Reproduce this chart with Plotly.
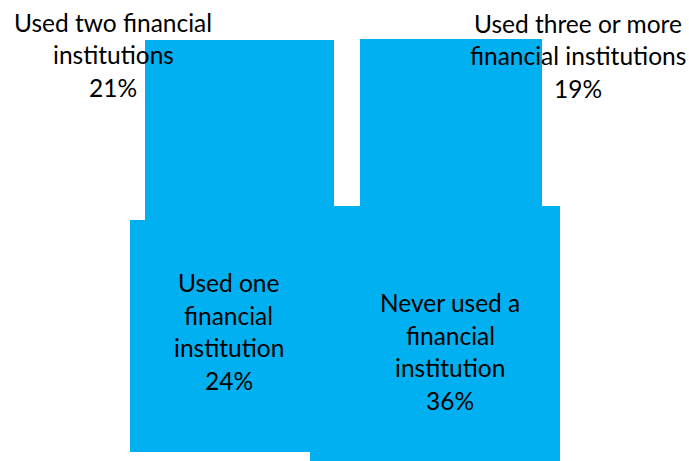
import plotly.graph_objects as go

# ---- data ----
categories = [
    "Used two financial<br>institutions",
    "Used three or more<br>financial institutions",
    "Used one<br>financial<br>institution",
    "Never used a<br>financial<br>institution",
]
shares = [21, 19, 24, 36]

# ---- layout geometry (pixel space: x0, x1, y0, y1) ----
rects = [
    (145, 334, 40, 222),
    (360, 542, 39, 208),
    (130, 310, 220, 452),
    (310, 560, 206, 461),
]
# label anchor: centre x, first-line centre y, line step
label_pos = [
    (113, 22, 32.5),
    (578, 23, 32.5),
    (228.5, 282.5, 32.7),
    (450, 302.5, 32.7),
]

FILL = "#00B0F0"
FONT = "Lato"
FSIZE = 24.5

fig = go.Figure()
for (x0, x1, y0, y1) in rects:
    fig.add_trace(go.Bar(
        x=[(x0 + x1) / 2], y=[y1 - y0], base=[y0], width=[x1 - x0],
        marker=dict(color=FILL, line=dict(width=0)),
        hoverinfo="skip", showlegend=False,
    ))

annotations = []
for cat, val, (cx, cy, step) in zip(categories, shares, label_pos):
    lines = cat.split("<br>") + [f"{val}%"]
    for i, ln in enumerate(lines):
        annotations.append(dict(
            x=cx, y=cy + i * step, xref="x", yref="y",
            text=ln, showarrow=False, xanchor="center", yanchor="middle",
            font=dict(family=FONT, size=FSIZE, color="#000000"),
        ))

fig.update_layout(
    width=689, height=461,
    margin=dict(l=0, r=0, t=0, b=0),
    paper_bgcolor="white", plot_bgcolor="white",
    barmode="overlay", bargap=0,
    xaxis=dict(range=[0, 689], visible=False, fixedrange=True),
    yaxis=dict(range=[461, 0], visible=False, fixedrange=True),
    annotations=annotations,
)

fig.write_html("out.html")
